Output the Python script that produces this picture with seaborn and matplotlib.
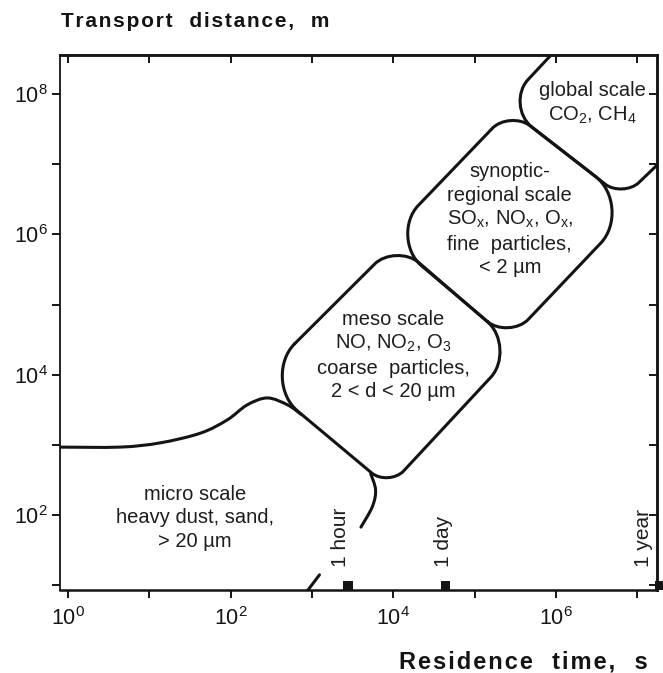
import numpy as np
import matplotlib
matplotlib.use("Agg")
import matplotlib.pyplot as plt
from matplotlib.path import Path
from matplotlib.patches import PathPatch
from matplotlib.ticker import FixedLocator, FuncFormatter, NullFormatter, NullLocator
import seaborn as sns

# ---------------- data (log10 residence time [s], log10 transport distance [m]) ----------------
meso_t = [4.03, 5.53, 3.94, 2.35]          # corners: top, right, bottom, left
meso_d = [5.88, 4.38, 2.40, 3.94]
syn_t = [3.93, 5.43, 6.97, 5.42]           # corners: left, top, right, bottom
syn_d = [5.96, 7.77, 6.39, 4.50]
glob_t = [6.11, 5.36, 6.82, 7.54]          # open boundary: top end, left corner, bottom corner, right end
glob_d = [8.77, 7.84, 6.52, 7.32]
micro_top_t = [-0.12, 0.64, 1.13, 1.63, 1.96, 2.20, 2.45, 2.70, 2.86]
micro_top_d = [2.97, 2.97, 3.03, 3.17, 3.36, 3.57, 3.67, 3.57, 3.44]
micro_side_t = [3.72, 3.78, 3.74, 3.60]
micro_side_d = [2.59, 2.36, 2.12, 1.83]
micro_tail_t = [3.09, 2.94]
micro_tail_d = [1.15, 0.92]

region_text = [
    "micro scale\nheavy dust, sand,\n> 20 µm",
    "meso scale\nNO, NO$_2$, O$_3$\ncoarse  particles,\n2 < d < 20 µm",
    "synoptic-\nregional scale\nSO$_\\mathrm{x}$, NO$_\\mathrm{x}$, O$_\\mathrm{x}$,\nfine  particles,\n< 2 µm",
    "global scale\nCO$_2$, CH$_4$",
]
region_t = [1.56, 4.00, 5.43, 6.45]
region_d = [1.96, 4.28, 6.21, 7.87]

mark_names = ["1 hour", "1 day", "1 year"]
mark_t = [3.44, 4.64, 7.27]
mark_label_t = [3.35, 4.61, 7.08]

x_exponents = [0, 1, 2, 3, 4, 5, 6, 7]
y_exponents = [1, 2, 3, 4, 5, 6, 7, 8]

y_title = "Transport  distance,  m"
x_title = "Residence  time,  s"

# ---------------- style ----------------
sns.set_style("ticks")
plt.rcParams["font.family"] = ["Liberation Sans", "DejaVu Sans"]
plt.rcParams["mathtext.fontset"] = "custom"
plt.rcParams["mathtext.rm"] = "Liberation Sans"
plt.rcParams["mathtext.it"] = "Liberation Sans:italic"
plt.rcParams["mathtext.bf"] = "Liberation Sans:bold"

INK = "#141414"
LW = 2.2

fig = plt.figure(figsize=(6.63, 6.73), dpi=100)
ax = fig.add_axes([60 / 663, 1 - 590 / 673, 597 / 663, 535 / 673])
ax.set_xscale("log")
ax.set_yscale("log")
ax.set_xlim(10 ** -0.10, 10 ** 7.24)
ax.set_ylim(10 ** 0.934, 10 ** 8.556)


def rounded_path(t, d, radii, closed, k=0.5):
    P = ax.transData.transform(np.column_stack([np.power(10.0, t), np.power(10.0, d)]))
    n = len(P)

    def unit(a, b):
        v = b - a
        return v / np.hypot(v[0], v[1])

    idx = range(n) if closed else range(1, n - 1)
    segs = []
    for i in idx:
        u1 = unit(P[i], P[(i - 1) % n])
        u2 = unit(P[i], P[(i + 1) % n])
        r = radii[i]
        segs.append((P[i] + r * u1, P[i] + (1 - k) * r * u1, P[i] + (1 - k) * r * u2, P[i] + r * u2))
    verts, codes = [], []
    if closed:
        verts.append(segs[-1][3]); codes.append(Path.MOVETO)
    else:
        verts.append(P[0]); codes.append(Path.MOVETO)
    for S, C1, C2, E in segs:
        verts += [S, C1, C2, E]
        codes += [Path.LINETO, Path.CURVE4, Path.CURVE4, Path.CURVE4]
    if not closed:
        verts.append(P[-1]); codes.append(Path.LINETO)
    data = ax.transData.inverted().transform(np.array(verts))
    return Path(data, codes)


def smooth_path(t, d):
    P = ax.transData.transform(np.column_stack([np.power(10.0, t), np.power(10.0, d)]))
    Q = np.vstack([P[0], P, P[-1]])
    verts, codes = [P[0]], [Path.MOVETO]
    for i in range(1, len(Q) - 2):
        c1 = Q[i] + (Q[i + 1] - Q[i - 1]) / 6.0
        c2 = Q[i + 1] - (Q[i + 2] - Q[i]) / 6.0
        verts += [c1, c2, Q[i + 1]]
        codes += [Path.CURVE4] * 3
    data = ax.transData.inverted().transform(np.array(verts))
    return Path(data, codes)


def add(path):
    ax.add_patch(PathPatch(path, fill=False, lw=LW, ec=INK, capstyle="round", joinstyle="round"))


add(rounded_path(meso_t, meso_d, [30, 40, 22, 50], True))
add(rounded_path(syn_t, syn_d, [44, 25, 50, 28], True))
add(rounded_path(glob_t, glob_d, [0, 35, 22, 0], False))
add(smooth_path(micro_top_t, micro_top_d))
add(smooth_path(micro_side_t, micro_side_d))
sns.lineplot(x=np.power(10.0, micro_tail_t), y=np.power(10.0, micro_tail_d), ax=ax,
             color=INK, lw=LW, sort=False, estimator=None)

# region labels
for txt, t, d in zip(region_text, region_t, region_d):
    ax.text(10 ** t, 10 ** d, txt, ha="center", va="center", fontsize=14.5,
            linespacing=1.28, color="#1e1e1e")

# time markers
mark_y = 10 ** (0.934 + 4.5 / 70.2)
sns.scatterplot(x=np.power(10.0, mark_t), y=[mark_y] * len(mark_t), ax=ax, marker="s",
                s=50, color=INK, edgecolor="none", clip_on=False, legend=False, zorder=5)
for name, t in zip(mark_names, mark_label_t):
    ax.text(10 ** t, 10 ** 1.26, name, rotation=90, ha="center", va="bottom",
            fontsize=15, color="#1e1e1e")

# ticks
def fmt(v, pos):
    e = int(round(np.log10(v)))
    return f"$10^{{{e}}}$" if e % 2 == 0 else ""

ax.xaxis.set_major_locator(FixedLocator(np.power(10.0, x_exponents)))
ax.yaxis.set_major_locator(FixedLocator(np.power(10.0, y_exponents)))
ax.xaxis.set_minor_locator(NullLocator())
ax.yaxis.set_minor_locator(NullLocator())
ax.xaxis.set_major_formatter(FuncFormatter(fmt))
ax.yaxis.set_major_formatter(FuncFormatter(fmt))
ax.tick_params(axis="both", which="major", direction="out", length=6, width=1.4,
               labelsize=15.5, colors=INK)
ax.tick_params(axis="x", pad=6)
ax.tick_params(axis="y", pad=3)

secx = ax.secondary_xaxis("top")
secx.xaxis.set_major_locator(FixedLocator(np.power(10.0, x_exponents)))
secx.xaxis.set_minor_locator(NullLocator())
secx.xaxis.set_major_formatter(NullFormatter())
secx.tick_params(direction="in", length=6, width=1.4, colors=INK)
secy = ax.secondary_yaxis("right")
secy.yaxis.set_major_locator(FixedLocator(np.power(10.0, y_exponents)))
secy.yaxis.set_minor_locator(NullLocator())
secy.yaxis.set_major_formatter(NullFormatter())
secy.tick_params(direction="in", length=6, width=1.4, colors=INK)

for a in (ax, secx, secy):
    for s in a.spines.values():
        s.set_color(INK)
        s.set_linewidth(1.8)
ax.spines["left"].set_linewidth(1.3)


def tracked(s):
    return "\u200a".join(s)


fig.text(61 / 663, 1 - 27 / 673, tracked(y_title), fontsize=15, fontweight="bold",
         ha="left", va="baseline", color=INK)
fig.text(648 / 663, 1 - 668 / 673, tracked(x_title), fontsize=17, fontweight="bold",
         ha="right", va="baseline", color=INK)

fig.savefig("out.png", dpi=100)
